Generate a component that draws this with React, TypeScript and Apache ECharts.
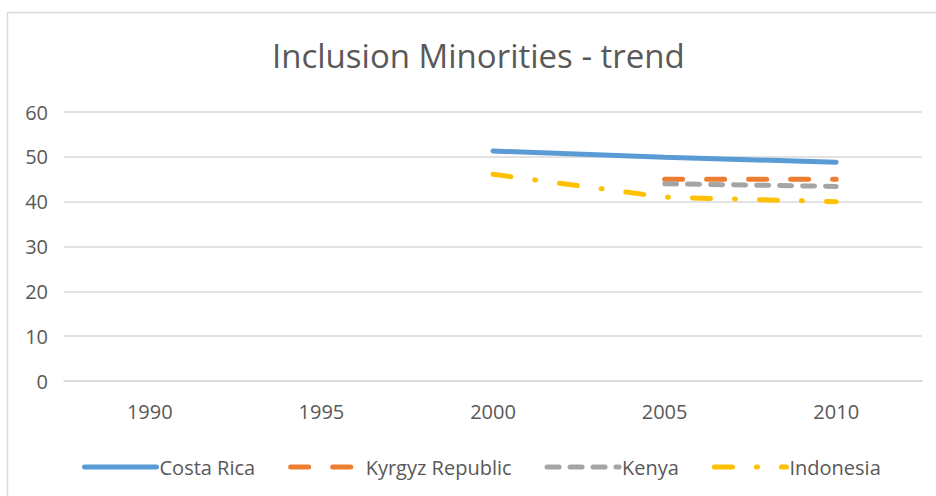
import React, { useEffect, useRef } from "react";
import * as echarts from "echarts";

const title = "Inclusion Minorities - trend";
const years = ["1990", "1995", "2000", "2005", "2010"];
const costaRica = [null, null, 51.3, 49.9, 48.8];
const kyrgyz = [null, null, null, 45, 45];
const kenya = [null, null, null, 44, 43.4];
const indonesia = [null, null, 46.1, 41, 40];
const yTicks = { min: 0, max: 60, interval: 10 };

const FONT = "Open Sans";
const TXT = "#595959";

export default function App() {
  const ref = useRef<HTMLDivElement>(null);
  useEffect(() => {
    const chart = echarts.init(ref.current!, null, { renderer: "svg" });
    const mk = (name: string, data: any[], color: string, type: any, width: number) => ({
      name,
      type: "line",
      data,
      symbol: "none",
      connectNulls: false,
      lineStyle: { color, width, type, cap: "round" },
      itemStyle: { color },
    });
    chart.setOption({
      animation: false,
      backgroundColor: "#fff",
      title: {
        text: title,
        left: 267,
        top: 34,
        textStyle: { fontFamily: FONT, fontSize: 33, fontWeight: "normal", color: TXT },
      },
      graphic: [
        {
          type: "rect",
          shape: { x: 7.5, y: 12.5, width: 1000, height: 1000 },
          style: { fill: "none", stroke: "#D9D9D9", lineWidth: 1.5 },
          silent: true,
        },
      ],
      legend: {
        bottom: 14,
        left: 77,
        itemWidth: 72,
        itemHeight: 12,
        itemGap: 33,
        itemStyle: { opacity: 0 },
        lineStyle: { width: 5, cap: "round" },
        textStyle: { fontFamily: FONT, fontSize: 20, color: TXT, padding: [0, 0, 0, -2] },
        data: ["Costa Rica", "Kyrgyz Republic", "Kenya", "Indonesia"],
      },
      grid: { left: 64, right: 14, top: 112, bottom: 115 },
      xAxis: {
        type: "category",
        data: years,
        boundaryGap: true,
        axisLine: { lineStyle: { color: "#D9D9D9", width: 1.5 } },
        axisTick: { show: false },
        axisLabel: { fontFamily: FONT, fontSize: 20, color: TXT, margin: 20 },
      },
      yAxis: {
        type: "value",
        ...yTicks,
        axisLine: { show: false },
        axisTick: { show: false },
        splitLine: { lineStyle: { color: "#D9D9D9", width: 1.5 } },
        axisLabel: { fontFamily: FONT, fontSize: 20, color: TXT, margin: 16 },
      },
      series: [
        mk("Costa Rica", costaRica, "#5B9BD5", "solid", 5),
        mk("Kyrgyz Republic", kyrgyz, "#ED7D31", [18, 24], 5),
        mk("Kenya", kenya, "#A5A5A5", [12, 11], 5),
        mk("Indonesia", indonesia, "#FFC000", [18, 24, 1, 24], 5),
      ],
    });
    return () => chart.dispose();
  }, []);
  return (
    <div
      ref={ref}
      style={{ position: "fixed", left: 0, top: 0, width: 936, height: 496 }}
    />
  );
}
